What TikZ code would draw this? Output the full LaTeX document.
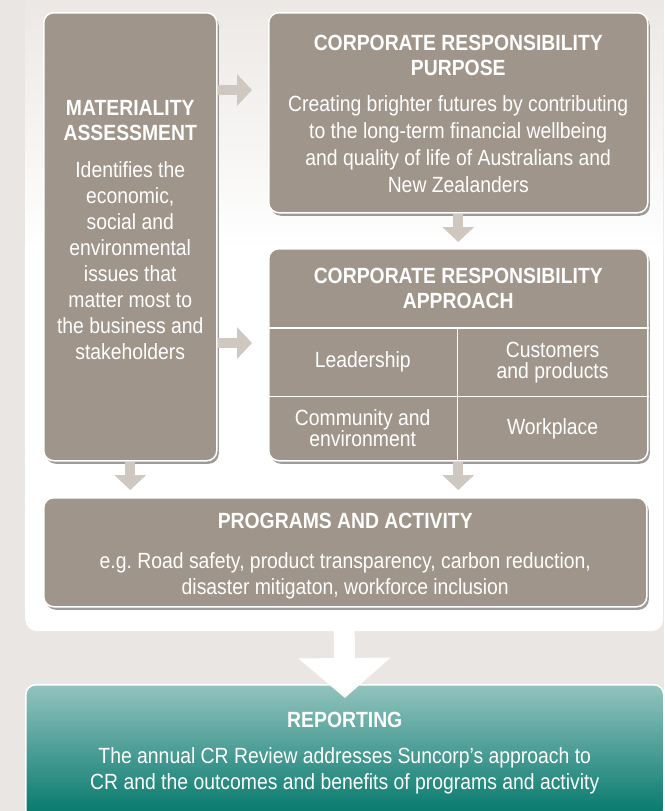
\documentclass[tikz,border=0pt]{standalone}
\usepackage{fontspec}
\setmainfont{Liberation Sans}[FakeStretch=0.88]
\usepackage{tikz}
\usetikzlibrary{positioning}
\usetikzlibrary{shadows}
\usetikzlibrary{arrows.meta}
\usepackage{xcolor}
\frenchspacing

\definecolor{bggray}{HTML}{EAE6E3}
\definecolor{boxtaupe}{HTML}{A0958A}
\definecolor{arrowgray}{HTML}{CEC8C1}
\definecolor{tealtop}{HTML}{93C3BF}
\definecolor{tealmid}{HTML}{108579}
\definecolor{tealbot}{HTML}{00766A}

\tikzset{
	taupebox/.style={draw=white, line width=1.5pt, fill=boxtaupe, rounded corners=10pt, inner sep=0pt, anchor=north west,
		drop shadow={shadow xshift=2pt, shadow yshift=-3pt, fill=black!70, opacity=0.55}},
	headtext/.style={font=\bfseries\fontsize{22}{25}\selectfont, text=white, align=center, inner sep=0pt},
	bodytext/.style={font=\fontsize{22}{26}\selectfont, text=white, align=center, inner sep=0pt},
	celltext/.style={font=\fontsize{22}{21}\selectfont, text=white, align=center, inner sep=0pt, anchor=north west},
	divline/.style={white, line width=1.5pt},
	flowarrow/.style={arrowgray, line width=10pt, -{Triangle[width=31pt, length=15pt]}}
}

\begin{document}
\begin{tikzpicture}[x=1pt, y=-1pt]
	\useasboundingbox[fill=bggray] (0,0) rectangle (664,811);
	% white panel
	\node[fill=white, rounded corners=12pt, minimum width=638pt, minimum height=651pt, inner sep=0pt, anchor=north west] (panel) at (25,-20) {};
	\shade[top color=bggray, bottom color=white] (25,-20) rectangle (663,250);

	\node[taupebox, minimum width=173pt, minimum height=448pt] (mat) at (43,12) {};
	\node[taupebox, minimum width=379pt, minimum height=200pt] (purp) at (268,12) {};
	\node[taupebox, minimum width=379pt, minimum height=212pt] (appr) at (268,248) {};
	\node[taupebox, minimum width=603pt, minimum height=109pt] (prog) at (43,497) {};

	\node[headtext, below=88pt of mat.north] (mathead) {MATERIALITY\\ASSESSMENT};
	\node[bodytext, below=149pt of mat.north] (matbody) {Identifies the\\economic,\\social and\\environmental\\issues that\\matter most to\\the business and\\stakeholders};

	\node[headtext, below=23pt of purp.north] (purphead) {CORPORATE RESPONSIBILITY\\PURPOSE};
	\node[bodytext, font=\fontsize{22}{27}\selectfont, below=83pt of purp.north] (purpbody) {Creating brighter futures by contributing\\to the long-term financial wellbeing\\and quality of life of Australians and\\New Zealanders};

	\node[headtext, below=20pt of appr.north] (apprhead) {CORPORATE RESPONSIBILITY\\APPROACH};
	\node[celltext, minimum width=189pt, minimum height=68pt] (lead) at (268,328) {Leadership};
	\node[celltext, minimum width=190pt, minimum height=68pt, right=0pt of lead] (cust) {Customers\\and products};
	\node[celltext, minimum width=189pt, minimum height=64pt, below=0pt of lead] (comm) {Community and\\environment};
	\node[celltext, minimum width=190pt, minimum height=64pt, right=0pt of comm] (work) {Workplace};
	\draw[divline] (appr.west |- lead.north) -- (appr.east |- lead.north);
	\draw[divline] (appr.west |- lead.south) -- (appr.east |- lead.south);
	\draw[divline] (lead.north east) -- (comm.south east);

	\node[headtext, below=16pt of prog.north] (proghead) {PROGRAMS AND ACTIVITY};
	\node[bodytext, below=55pt of prog.north] (progbody) {e.g. Road safety, product transparency, carbon reduction,\\disaster mitigaton, workforce inclusion};

	% arrows
	\coordinate (topurp) at (0,90);
	\coordinate (toappr) at (0,343);
	\draw[flowarrow, shorten >=16pt] (mat.east |- topurp) -- (purp.west |- topurp);
	\draw[flowarrow, shorten >=16pt] (mat.east |- toappr) -- (appr.west |- toappr);
	\draw[flowarrow, shorten >=6pt] (purp.south) -- (appr.north);
	\draw[flowarrow, shorten >=7pt] (mat.south) -- (mat.south |- prog.north);
	\draw[flowarrow, shorten >=7pt] (appr.south) -- (appr.south |- prog.north);

	\node[draw=white, line width=1.5pt, rounded corners=10pt, top color=tealtop, middle color=tealmid, bottom color=tealbot, minimum width=638pt, minimum height=135pt, inner sep=0pt, anchor=north west] (report) at (25,684) {};
	\draw[white, line width=21pt, -{Triangle[width=90pt, length=40pt]}, shorten >=-14pt, shorten <=-3pt] (panel.south) -- (report.north);
	\node[headtext, below=28pt of report.north] (rephead) {REPORTING};
	\node[bodytext, below=63pt of report.north] (repbody) {The annual CR Review addresses Suncorp’s approach to\\CR and the outcomes and benefits of programs and activity};
\end{tikzpicture}
\end{document}
